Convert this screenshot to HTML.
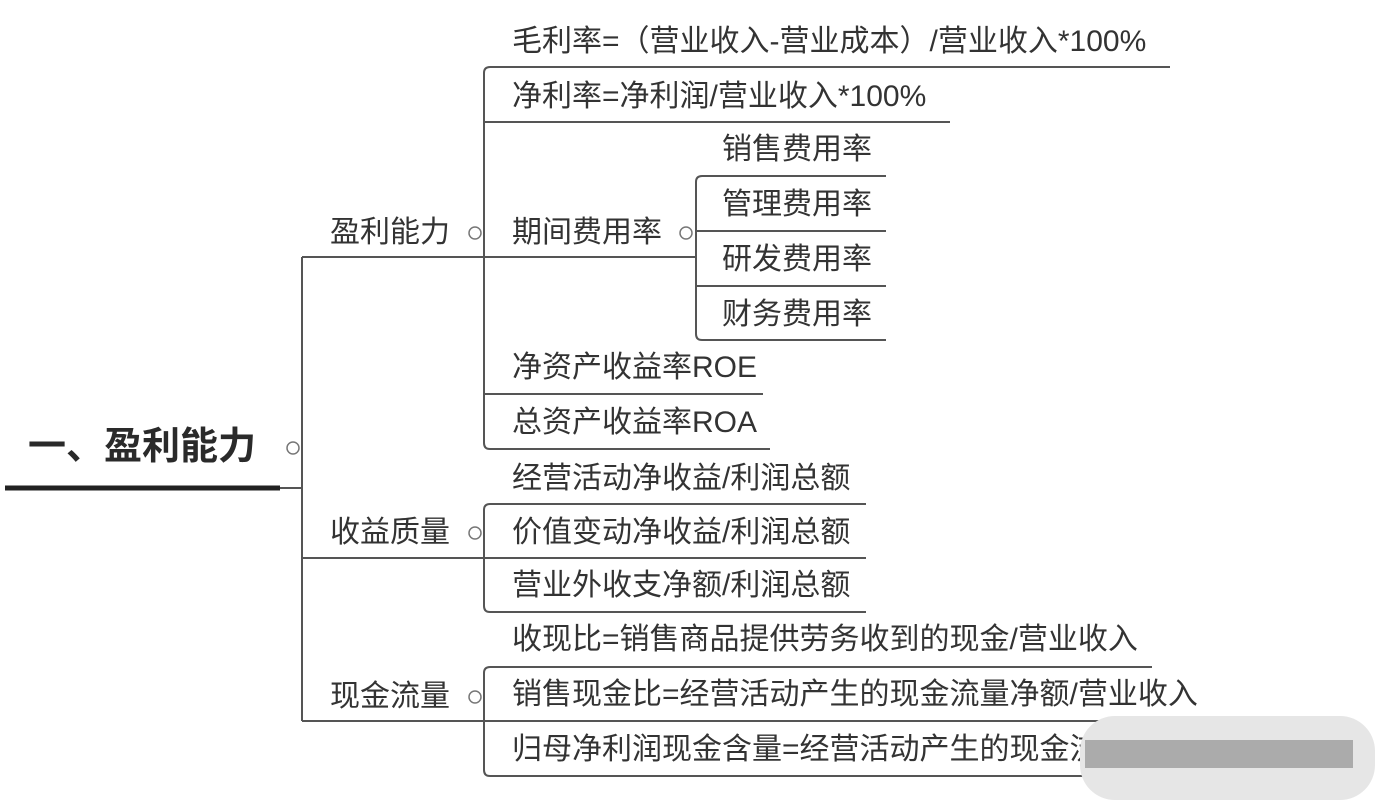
<!DOCTYPE html>
<html><head><meta charset="utf-8"><style>
html,body{margin:0;padding:0;background:#fff;}
body{width:1385px;height:800px;position:relative;overflow:hidden;font-family:"Liberation Sans","Noto Sans CJK SC",sans-serif;color:#333;}
.t{position:absolute;font-size:30px;line-height:32px;white-space:nowrap;}
svg{position:absolute;left:0;top:0;}
</style></head><body>
<svg width="1385" height="800" viewBox="0 0 1385 800">
<g fill="none" stroke="#555" stroke-width="2">
<line x1="5" y1="488" x2="280" y2="488" stroke="#222" stroke-width="5"/>
<line x1="280" y1="488" x2="302" y2="488"/>
<line x1="302" y1="257" x2="302" y2="721"/>
<line x1="302" y1="257" x2="484" y2="257"/>
<line x1="302" y1="558" x2="484" y2="558"/>
<line x1="302" y1="721" x2="484" y2="721"/>
<path d="M1170 67 H490 Q484 67 484 73 V443 Q484 449 490 449 H770"/>
<line x1="484" y1="122" x2="950" y2="122"/>
<line x1="484" y1="257" x2="696" y2="257"/>
<line x1="484" y1="394" x2="763" y2="394"/>
<path d="M886 176 H702 Q696 176 696 182 V334 Q696 340 702 340 H886"/>
<line x1="696" y1="231" x2="886" y2="231"/>
<line x1="696" y1="286" x2="886" y2="286"/>
<path d="M866 504 H490 Q484 504 484 510 V606 Q484 612 490 612 H866"/>
<line x1="484" y1="558" x2="866" y2="558"/>
<path d="M1152 667 H490 Q484 667 484 673 V770 Q484 776 490 776 H1100"/>
<line x1="484" y1="721" x2="1210" y2="721"/>
</g>
<g fill="#fff" stroke="#777" stroke-width="1.5">
<circle cx="293" cy="448" r="6"/>
<circle cx="475" cy="233" r="6"/>
<circle cx="475" cy="533" r="6"/>
<circle cx="475" cy="697" r="6"/>
<circle cx="686" cy="233" r="6"/>
</g>
</svg>
<div class="t" style="left:28px;top:426px;font-size:38px;line-height:42px;font-weight:bold;color:#2a2a2a;">一、盈利能力</div>
<div class="t" style="left:330px;top:217px;">盈利能力</div>
<div class="t" style="left:330px;top:517px;">收益质量</div>
<div class="t" style="left:330px;top:681px;">现金流量</div>
<div class="t" style="left:512px;top:26px;">毛利率=（营业收入-营业成本）/营业收入*100%</div>
<div class="t" style="left:512px;top:81px;">净利率=净利润/营业收入*100%</div>
<div class="t" style="left:512px;top:217px;">期间费用率</div>
<div class="t" style="left:722px;top:134px;">销售费用率</div>
<div class="t" style="left:722px;top:189px;">管理费用率</div>
<div class="t" style="left:722px;top:244px;">研发费用率</div>
<div class="t" style="left:722px;top:299px;">财务费用率</div>
<div class="t" style="left:512px;top:352px;">净资产收益率ROE</div>
<div class="t" style="left:512px;top:407px;">总资产收益率ROA</div>
<div class="t" style="left:512px;top:463px;">经营活动净收益/利润总额</div>
<div class="t" style="left:512px;top:517px;">价值变动净收益/利润总额</div>
<div class="t" style="left:512px;top:570px;">营业外收支净额/利润总额</div>
<div class="t" style="left:512px;top:624px;">收现比=销售商品提供劳务收到的现金/营业收入</div>
<div class="t" style="left:512px;top:679px;">销售现金比=经营活动产生的现金流量净额/营业收入</div>
<div class="t" style="left:512px;top:734px;">归母净利润现金含量=经营活动产生的现金流</div>
<div style="position:absolute;left:1080px;top:716px;width:295px;height:84px;">
<div style="position:absolute;left:0;top:0;width:295px;height:84px;border-radius:35px;background:#e6e6e6;"></div>
<div style="position:absolute;left:5px;top:24px;width:268px;height:28px;background:#ababab;"></div>
</div>
</body></html>
